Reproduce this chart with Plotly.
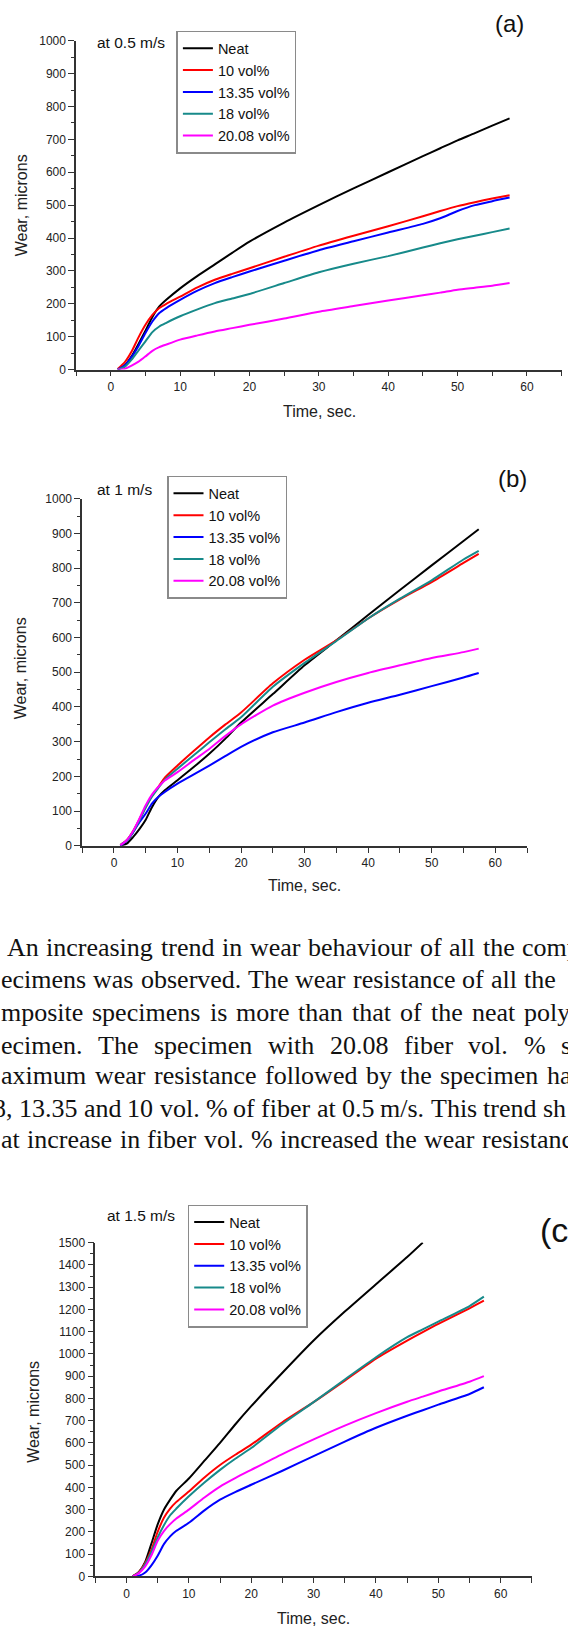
import plotly.graph_objects as go

W, H = 568, 1634

SERIES = ["Neat", "10 vol%", "13.35 vol%", "18 vol%", "20.08 vol%"]
COLORS = ["#000000", "#ff0000", "#0000ff", "#178a8a", "#ff00ff"]

# ---------------- (a) at 0.5 m/s ----------------
TIME_A = [1, 2, 3, 4, 5, 6, 7, 8, 10, 12.5, 15, 17.5, 20, 25, 30, 35, 40, 45, 47.5, 50, 52.5, 55, 57.5]
NEAT_A = [0, 12, 40, 78, 118, 160, 192, 212, 247, 285, 320, 355, 389, 447, 500, 551, 600, 649, 673, 697, 719, 742, 764]
V10_A = [2, 22, 55, 98, 136, 166, 187, 200, 222, 250, 273, 291, 308, 343, 377, 407, 436, 466, 482, 497, 509, 520, 530]
V1335_A = [0, 12, 38, 72, 111, 146, 172, 187, 212, 240, 263, 281, 298, 331, 363, 390, 417, 443, 460, 482, 500, 512, 523]
V18_A = [0, 8, 30, 58, 86, 114, 131, 142, 162, 183, 202, 216, 230, 263, 296, 322, 345, 371, 384, 396, 407, 418, 429]
V2008_A = [0, 2, 12, 24, 40, 57, 68, 76, 91, 104, 116, 126, 136, 155, 176, 193, 210, 226, 234, 243, 249, 255, 263]

# ---------------- (b) at 1 m/s ----------------
TIME_B = [1, 2, 3, 4, 5, 6, 7, 8, 10, 12.5, 15, 17.5, 20, 25, 30, 35, 40, 45, 50, 55, 57.4]
NEAT_B = [0, 6, 25, 48, 75, 112, 141, 160, 189, 226, 265, 308, 355, 437, 520, 592, 665, 737, 808, 878, 912]
V10_B = [2, 16, 42, 76, 112, 145, 170, 196, 231, 272, 312, 349, 384, 468, 536, 592, 655, 710, 760, 815, 841]
V1335_B = [0, 14, 38, 68, 93, 122, 141, 155, 179, 205, 231, 258, 285, 327, 355, 385, 412, 435, 460, 485, 498]
V18_B = [2, 15, 40, 73, 110, 142, 167, 190, 222, 260, 298, 335, 370, 458, 527, 590, 655, 712, 765, 825, 850]
V2008_B = [1, 16, 42, 78, 117, 148, 170, 188, 212, 246, 279, 316, 350, 404, 441, 472, 498, 520, 541, 558, 568]

# ---------------- (c) at 1.5 m/s ----------------
TIME_C = [1, 2, 3, 4, 5, 6, 7, 8, 10, 12.5, 15, 17.5, 20, 25, 30, 35, 40, 45, 47.5, 50, 55, 57.3]
NEAT_C = [0, 20, 65, 148, 234, 300, 345, 385, 440, 520, 600, 685, 765, 915, 1060, 1190, 1313, 1435, 1500]
V10_C = [0, 20, 60, 120, 200, 264, 305, 335, 382, 445, 501, 548, 592, 693, 783, 880, 979, 1060, 1098, 1135, 1205, 1239]
V1335_C = [0, 3, 18, 50, 93, 145, 180, 205, 241, 297, 345, 380, 412, 475, 541, 606, 668, 722, 747, 772, 820, 850]
V18_C = [0, 18, 55, 110, 175, 230, 275, 305, 360, 422, 479, 530, 577, 685, 783, 885, 985, 1075, 1110, 1145, 1215, 1257]
V2008_C = [0, 15, 45, 95, 160, 204, 235, 260, 300, 355, 404, 443, 479, 550, 616, 678, 734, 785, 808, 831, 875, 900]

X_TICKS = [0, 10, 20, 30, 40, 50, 60]
X_RANGE = [-5, 65]

# page text between (b) and (c), cropped at the page edges as in the picture
PARAGRAPH = [
    ["An", "increasing", "trend", "in", "wear", "behaviour", "of", "all", "the", "comp"],
    ["ecimens", "was", "observed.", "The", "wear", "resistance", "of", "all", "the"],
    ["mposite", "specimens", "is", "more", "than", "that", "of", "the", "neat", "poly"],
    ["ecimen.", "The", "specimen", "with", "20.08", "fiber", "vol.", "%", "sh"],
    ["aximum", "wear", "resistance", "followed", "by", "the", "specimen", "ha"],
    ["8,", "13.35", "and", "10", "vol.", "%", "of", "fiber", "at", "0.5", "m/s.", "This", "trend", "sh"],
    ["at", "increase", "in", "fiber", "vol.", "%", "increased", "the", "wear", "resistanc"],
]

# ---------------- layout helpers (pixel positions) ----------------
def px(p):
    return p / W


def py(p):
    return 1 - p / H


# Times/Liberation Serif advance widths (1/1000 em) for justified-line layout
TIMES_W = {c: 500 for c in "0123456789bdghknopquvxy"}
TIMES_W.update({"a": 444, "c": 444, "e": 444, "z": 444, "f": 333, "r": 333, "i": 278, "j": 278,
                "l": 278, "t": 278, "m": 778, "s": 389, "w": 722, "A": 722, "T": 611,
                ".": 250, ",": 250, "%": 833, "/": 278, " ": 250})


def text_w(s, size):
    return sum(TIMES_W.get(ch, 500) for ch in s) / 1000.0 * size


def justify(words, x_first, x_last, size):
    widths = [text_w(w, size) for w in words[:-1]]
    gap = (x_last - x_first - sum(widths)) / (len(words) - 1)
    xs = [x_first]
    for wd in widths:
        xs.append(xs[-1] + wd + gap)
    return xs


panels = [
    dict(time=TIME_A, vals=[NEAT_A, V10_A, V1335_A, V18_A, V2008_A], yr=[0, 1000],
         xpx=(76.1, 561.6), ypx=(365.7, 34.0), leg="legend", leg_pos=(176.4, 24),
         speed="at 0.5 m/s", speed_pos=(167, 36), tag="(a)", tag_pos=(509, 17), tag_size=24,
         tag_anchor="center", xt_pos=(319, 408), yt_pos=(21, 200)),
    dict(time=TIME_B, vals=[NEAT_B, V10_B, V1335_B, V18_B, V2008_B], yr=[0, 1000],
         xpx=(82.2, 527.0), ypx=(846.0, 496.0), leg="legend2", leg_pos=(167, 473),
         speed="at 1 m/s", speed_pos=(154, 487), tag="(b)", tag_pos=(512, 476), tag_size=24,
         tag_anchor="center", xt_pos=(304, 886), yt_pos=(20, 667)),
    dict(time=TIME_C, vals=[NEAT_C, V10_C, V1335_C, V18_C, V2008_C], yr=[0, 1500],
         xpx=(95.3, 531.9), ypx=(1583.0, 1246.3), leg="legend3", leg_pos=(187.7, 1208),
         speed="at 1.5 m/s", speed_pos=(177, 1219), tag="(c)", tag_pos=(539, 1234), tag_size=34,
         tag_anchor="left", xt_pos=(313, 1625), yt_pos=(34, 1417)),
]

SANS = "Liberation Sans, Arial, sans-serif"
SERIF = "Liberation Serif, Times New Roman, serif"
AX = "#333333"

fig = go.Figure()
annotations = []
layout = dict(width=W, height=H, margin=dict(l=0, r=0, t=0, b=0), autosize=False,
              paper_bgcolor="white", plot_bgcolor="white", showlegend=True)

for i, p in enumerate(panels):
    sfx = "" if i == 0 else str(i + 1)
    for name, color, vals in zip(SERIES, COLORS, p["vals"]):
        fig.add_trace(go.Scatter(
            x=p["time"][:len(vals)], y=vals, name=name, mode="lines",
            line=dict(color=color, width=2, shape="spline", smoothing=0.6),
            xaxis="x" + sfx, yaxis="y" + sfx, legend=p["leg"], cliponaxis=True))
    layout["xaxis" + sfx] = dict(
        domain=[px(p["xpx"][0]), px(p["xpx"][1])], range=X_RANGE, anchor="y" + sfx,
        tickmode="array", tickvals=X_TICKS, ticks="outside", ticklen=5, tickwidth=1.3,
        tickcolor=AX, showline=True, linecolor=AX, linewidth=1.5, showgrid=False,
        zeroline=False, tickfont=dict(family=SANS, size=12, color="#222"),
        minor=dict(tickmode="linear", tick0=-5, dtick=5, ticks="outside", ticklen=5,
                   tickwidth=1.3, tickcolor=AX, showgrid=False))
    layout["yaxis" + sfx] = dict(
        domain=[py(p["ypx"][0]), py(p["ypx"][1])], range=p["yr"], anchor="x" + sfx,
        tickmode="linear", tick0=0, dtick=100, ticks="outside", ticklen=6, tickwidth=1.3,
        tickcolor=AX, showline=True, linecolor=AX, linewidth=1.5, showgrid=False,
        zeroline=False, tickfont=dict(family=SANS, size=12, color="#222"),
        minor=dict(tickmode="linear", tick0=50, dtick=100, ticks="outside", ticklen=3.5,
                   tickwidth=1.3, tickcolor=AX, showgrid=False))
    layout[p["leg"]] = dict(
        x=px(p["leg_pos"][0]), y=py(p["leg_pos"][1]), xanchor="left", yanchor="top",
        bgcolor="white", bordercolor="#8a8a8a", borderwidth=1.5,
        font=dict(family=SANS, size=14.5, color="#111"), tracegroupgap=0, itemwidth=30)
    annotations.append(dict(text=p["speed"], x=px(p["speed_pos"][0]), y=py(p["speed_pos"][1]),
                            xref="paper", yref="paper", xanchor="right", yanchor="middle",
                            showarrow=False, font=dict(family=SANS, size=15.5, color="#111")))
    annotations.append(dict(text=p["tag"], x=px(p["tag_pos"][0]), y=py(p["tag_pos"][1]),
                            xref="paper", yref="paper", xanchor=p["tag_anchor"], yanchor="middle",
                            showarrow=False, borderpad=0,
                            font=dict(family=SANS, size=p["tag_size"], color="#111")))
    annotations.append(dict(text="Time, sec.", x=px(p["xt_pos"][0]), y=py(p["xt_pos"][1]),
                            xref="paper", yref="paper", xanchor="center", yanchor="middle",
                            showarrow=False, font=dict(family=SANS, size=16, color="#222")))
    annotations.append(dict(text="Wear, microns", x=px(p["yt_pos"][0]), y=py(p["yt_pos"][1]),
                            xref="paper", yref="paper", xanchor="center", yanchor="middle",
                            textangle=-90, showarrow=False,
                            font=dict(family=SANS, size=16, color="#222")))

# justified paragraph: baseline (px) and start of first / last visible word per line
TEXT_SIZE = 26
LINE_BASE = [955, 987, 1020, 1053, 1084, 1117, 1148]
LINE_ANCHORS = [(6, 521), (0, 523), (0, 523), (0, 560), (0, 546), (-7.7, 541.6), (0, 481)]
for words, (xa, xb), base in zip(PARAGRAPH, LINE_ANCHORS, LINE_BASE):
    for w, x0 in zip(words, justify(words, xa, xb, TEXT_SIZE)):
        annotations.append(dict(text=w, x=px(x0), y=py(base - 6), xref="paper", yref="paper",
                                xanchor="left", yanchor="middle", showarrow=False,
                                borderpad=0,
                                font=dict(family=SERIF, size=TEXT_SIZE, color="#111")))

layout["annotations"] = annotations
fig.update_layout(**layout)
fig.write_html("out.html")
